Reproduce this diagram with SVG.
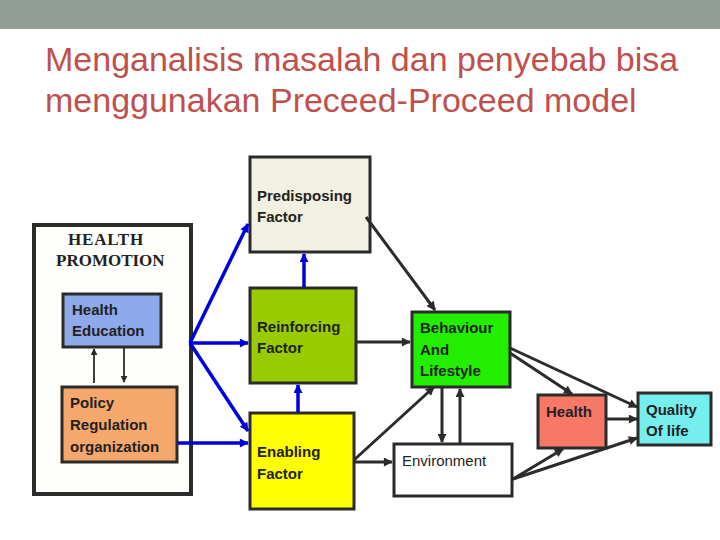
<svg xmlns="http://www.w3.org/2000/svg" width="720" height="540" viewBox="0 0 720 540">
<defs>
<marker id="ab" viewBox="0 0 10 10" refX="9" refY="5" markerWidth="10" markerHeight="9" markerUnits="userSpaceOnUse" orient="auto"><path d="M0,0 L10,5 L0,10 z" fill="#0000dd"/></marker>
<marker id="ad" viewBox="0 0 10 10" refX="9" refY="5" markerWidth="10" markerHeight="9" markerUnits="userSpaceOnUse" orient="auto"><path d="M0,0 L10,5 L0,10 z" fill="#2b2b2b"/></marker>
<marker id="at" viewBox="0 0 10 10" refX="9" refY="5" markerWidth="7" markerHeight="7" markerUnits="userSpaceOnUse" orient="auto"><path d="M0,0 L10,5 L0,10 z" fill="#2b2b2b"/></marker>
</defs>
<style>
.box{stroke:#2b2b2b;stroke-width:3}
.t{font-family:"Liberation Sans",Arial,sans-serif;font-weight:bold;font-size:15px;fill:#222}
.n{font-weight:normal}
.hp{font-family:"Liberation Serif","Times New Roman",serif;font-weight:bold;font-size:17px;fill:#222}
.blue{stroke:#0000dd;stroke-width:3.5;fill:none;marker-end:url(#ab)}
.dark{stroke:#2b2b2b;stroke-width:3;fill:none;marker-end:url(#ad)}
.thin{stroke:#2b2b2b;stroke-width:1.8;fill:none;marker-end:url(#at)}
.title{font-family:"Liberation Sans",Arial,sans-serif;font-size:34px;fill:#c0504d}
</style>
<rect x="0" y="0" width="720" height="540" fill="#ffffff"/>
<rect x="0" y="0" width="720" height="29" fill="#909e96"/>
<text class="title" x="45" y="71">Menganalisis masalah dan penyebab bisa</text>
<text class="title" x="45" y="112">menggunakan Preceed-Proceed model</text>

<g id="health-promotion">
<rect x="34" y="225" width="157" height="269" fill="#fefefb" stroke="#2b2b2b" stroke-width="4"/>
<text class="hp" x="68" y="245" letter-spacing="0.8">HEALTH</text>
<text class="hp" x="56" y="266">PROMOTION</text>
</g>
<g id="health-education">
<rect class="box" x="63" y="294" width="98" height="53" fill="#8eaaea"/>
<text class="t" x="72" y="315">Health</text>
<text class="t" x="72" y="336">Education</text>
</g>
<g id="policy">
<rect class="box" x="62" y="387" width="115" height="75" fill="#f6a76c"/>
<text class="t" x="70" y="408">Policy</text>
<text class="t" x="70" y="430">Regulation</text>
<text class="t" x="70" y="452">organization</text>
</g>
<g id="predisposing">
<rect class="box" x="250" y="157" width="120" height="95" fill="#f2f0e0"/>
<text class="t" x="257" y="201">Predisposing</text>
<text class="t" x="257" y="222">Factor</text>
</g>
<g id="reinforcing">
<rect class="box" x="250" y="288" width="106" height="95" fill="#99cc00"/>
<text class="t" x="257" y="332">Reinforcing</text>
<text class="t" x="257" y="353">Factor</text>
</g>
<g id="enabling">
<rect class="box" x="250" y="413" width="104" height="96" fill="#ffff00"/>
<text class="t" x="257" y="457">Enabling</text>
<text class="t" x="257" y="479">Factor</text>
</g>
<g id="behaviour">
<rect class="box" x="412" y="312" width="98" height="75" fill="#22ee00"/>
<text class="t" x="420" y="333">Behaviour</text>
<text class="t" x="420" y="355">And</text>
<text class="t" x="420" y="376">Lifestyle</text>
</g>
<g id="environment">
<rect class="box" x="394" y="444" width="118" height="52" fill="#ffffff"/>
<text class="t n" x="402" y="466">Environment</text>
</g>
<g id="health">
<rect class="box" x="538" y="395" width="68" height="53" fill="#f87868"/>
<text class="t" x="546" y="417">Health</text>
</g>
<g id="quality">
<rect class="box" x="638" y="393" width="73" height="52" fill="#77eeee"/>
<text class="t" x="646" y="415">Quality</text>
<text class="t" x="646" y="436">Of life</text>
</g>

<g id="connectors">
<line class="thin" x1="94" y1="383" x2="94" y2="349"/>
<line class="thin" x1="124" y1="347" x2="124" y2="382"/>
<line class="blue" x1="190" y1="343" x2="248" y2="224"/>
<line class="blue" x1="190" y1="343" x2="248" y2="343"/>
<line class="blue" x1="190" y1="343" x2="248" y2="431"/>
<line class="blue" x1="178" y1="443" x2="248" y2="443"/>
<line class="blue" x1="304" y1="287" x2="304" y2="254"/>
<line class="blue" x1="298" y1="412" x2="298" y2="385"/>
<line class="dark" x1="366" y1="217" x2="435" y2="310"/>
<line class="dark" x1="357" y1="342" x2="410" y2="342"/>
<line class="dark" x1="354" y1="460" x2="434" y2="387"/>
<line class="dark" x1="354" y1="462" x2="392" y2="462"/>
<line class="dark" x1="442" y1="387" x2="442" y2="442"/>
<line class="dark" x1="460" y1="444" x2="460" y2="389"/>
<line class="dark" x1="510" y1="353" x2="572" y2="394"/>
<line class="dark" x1="510" y1="348" x2="637" y2="407"/>
<line class="dark" x1="606" y1="419" x2="637" y2="419"/>
<line class="dark" x1="513" y1="479" x2="563" y2="449"/>
<line class="dark" x1="513" y1="479" x2="637" y2="438"/>
</g>
</svg>
